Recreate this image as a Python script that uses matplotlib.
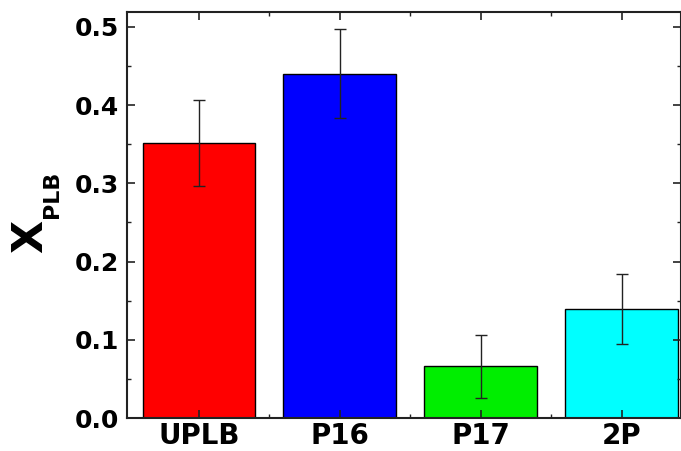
import matplotlib.pyplot as plt
import numpy as np
from matplotlib.ticker import MultipleLocator, FixedLocator

plt.rcParams['font.family'] = ['DejaVu Sans']
plt.rcParams['font.weight'] = 'bold'

samples = ['UPLB', 'P16', 'P17', '2P']
x_plb = [0.352, 0.440, 0.066, 0.139]
x_err = [0.055, 0.057, 0.040, 0.045]
colors = ['#ff0000', '#0000ff', '#00ee00', '#00ffff']


def main():
	fig = plt.figure(figsize=(6.81, 4.51), dpi=100)
	ax = fig.add_axes([127/681, 33/451, 554/681, 406/451])

	pos = np.arange(len(samples))
	ax.bar(pos, x_plb, width=0.8, color=colors, edgecolor='black', linewidth=1.0,
		yerr=x_err, capsize=4, error_kw=dict(elinewidth=1.0, capthick=1.0, ecolor='#222222'))

	ax.set_ylim(0, 0.519)
	ax.set_xlim(-0.51, 3.42)
	ax.set_xticks(pos)
	ax.set_xticklabels(samples, fontsize=20, fontweight='bold')
	ax.xaxis.set_minor_locator(FixedLocator(pos[:-1] + 0.5))
	ax.yaxis.set_major_locator(MultipleLocator(0.1))
	ax.yaxis.set_minor_locator(MultipleLocator(0.05))
	ax.set_yticklabels(['%.1f' % v for v in ax.get_yticks()], fontsize=18, fontweight='bold')

	ax.tick_params(which='both', direction='in', top=True, right=True, color='#222222')
	ax.tick_params(which='major', length=6, width=1.2, pad=6)
	ax.tick_params(which='minor', length=3, width=1.0)
	ax.tick_params(axis='x', which='major', pad=3)
	for s in ax.spines.values():
		s.set_linewidth(1.5)
		s.set_color('#222222')

	# y label: big X with a smaller PLB subscript
	fig.text(30/681, 1 - 236/451, 'X', rotation=90, fontsize=31, fontweight='bold',
		ha='center', va='center')
	fig.text(52/681, 1 - 194/451, 'PLB', rotation=90, fontsize=16, fontweight='bold',
		ha='center', va='center')

	fig.savefig('out.png', dpi=100)


if __name__ == "__main__":
	main()
